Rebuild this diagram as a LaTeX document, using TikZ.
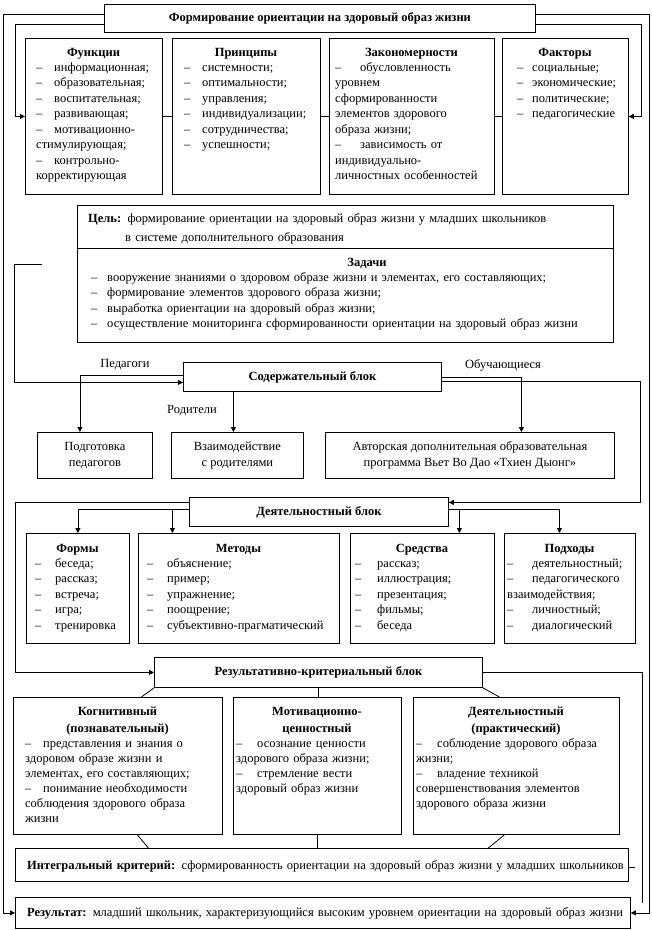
\documentclass[tikz,border=0pt]{standalone}
\usepackage{fontspec}
\setmainfont{Liberation Serif}
\usetikzlibrary{arrows.meta,calc}
\newcommand{\dsh}[1][18pt]{\makebox[#1][l]{–}}
\begin{document}
\begin{tikzpicture}[x=1pt,y=-1pt,
  font=\fontsize{12.5}{15.5}\selectfont,
  bx/.style={draw,line width=0.8pt,anchor=north west,inner sep=0pt,align=center},
  bf/.style={font=\fontsize{12.5}{15.5}\selectfont\bfseries},
  ttl/.style={font=\fontsize{12.5}{15.5}\selectfont\bfseries,anchor=base,inner sep=0pt},
  ttltwo/.style={font=\fontsize{12.5}{17}\selectfont\bfseries,anchor=base,inner sep=0pt,align=center,text width=#1},
  lst/.style={anchor=base west,inner sep=0pt,text width=#1,align=left},
  lst/.default=220pt,
  lbl/.style={inner sep=0pt},
  ln/.style={line width=0.8pt},
  arr/.style={line width=0.8pt,-{Triangle[length=5pt,width=5pt]}}
]
\fill[white] (0,0) rectangle (652,930);
\useasboundingbox (0,0) rectangle (652,930);

% ---------- boxes ----------
\node[bx,bf,minimum width=431pt,minimum height=28pt] (title) at (104,4) {Формирование ориентации на здоровый образ жизни};
\node[bx,minimum width=137pt,minimum height=156pt] (func) at (25,38) {};
\node[bx,minimum width=148pt,minimum height=156pt] (princ) at (172,38) {};
\node[bx,minimum width=165pt,minimum height=156pt] (zakon) at (329,38) {};
\node[bx,minimum width=126pt,minimum height=156pt] (fact) at (502,38) {};
\node[bx,minimum width=536pt,minimum height=43pt] (goal) at (77,205) {};
\node[bx,minimum width=536pt,minimum height=94pt] (tasks) at (77,248) {};
\node[bx,bf,minimum width=258pt,minimum height=29pt] (sod) at (183,362) {Содержательный блок};
\node[bx,minimum width=115pt,minimum height=46pt] (prep) at (37,432) {Подготовка\\педагогов};
\node[bx,minimum width=132pt,minimum height=46pt] (inter) at (171,432) {Взаимодействие\\с родителями};
\node[bx,minimum width=289pt,minimum height=46pt] (auth) at (325,432) {Авторская дополнительная образовательная\\программа Вьет Во Дао «Тхиен Дыонг»};
\node[bx,bf,minimum width=259pt,minimum height=29pt] (deyat) at (189,497) {Деятельностный блок};
\node[bx,minimum width=103pt,minimum height=110pt] (forms) at (26,533) {};
\node[bx,minimum width=201pt,minimum height=110pt] (meth) at (138,533) {};
\node[bx,minimum width=144pt,minimum height=110pt] (means) at (350,533) {};
\node[bx,minimum width=131pt,minimum height=110pt] (appr) at (504,533) {};
\node[bx,bf,minimum width=328pt,minimum height=30pt] (res) at (154,657) {Результативно-критериальный блок};
\node[bx,minimum width=209pt,minimum height=137pt] (kog) at (13,697) {};
\node[bx,minimum width=168pt,minimum height=137pt] (motiv) at (233,697) {};
\node[bx,minimum width=206pt,minimum height=137pt] (deya2) at (413,697) {};
\node[bx,minimum width=613pt,minimum height=33pt] (integ) at (15,848) {};
\node[bx,minimum width=615pt,minimum height=31pt] (result) at (15,897) {};

% ---------- texts: row 1 ----------
\node[ttl] (funcT) at (93.5,56) {Функции};
\node[lst] (funcL) at (36,71) {\dsh информационная;\\\dsh образовательная;\\\dsh воспитательная;\\\dsh развивающая;\\\dsh мотивационно-\\стимулирующая;\\\dsh контрольно-\\корректирующая};
\node[ttl] (princT) at (246,56) {Принципы};
\node[lst] (princL) at (184,71) {\dsh системности;\\\dsh оптимальности;\\\dsh управления;\\\dsh индивидуализации;\\\dsh сотрудничества;\\\dsh успешности;};
\node[ttl] (zakonT) at (411.5,56) {Закономерности};
\node[lst] (zakonL) at (335,71) {\dsh[25pt]обусловленность\\уровнем\\сформированности\\элементов здорового\\образа жизни;\\\dsh[25pt]зависимость от\\индивидуально-\\личностных особенностей};
\node[ttl] (factT) at (565,56) {Факторы};
\node[lst] (factL) at (517,71) {\dsh[15pt]социальные;\\\dsh[15pt]экономические;\\\dsh[15pt]политические;\\\dsh[15pt]педагогические};

% ---------- goal and tasks ----------
\node[lst=530pt] (goalT) at (88,222) {\textbf{Цель:} формирование ориентации на здоровый образ жизни у младших школьников};
\node[lst=480pt] (goalT2) at (125,241) {в системе дополнительного образования};
\node[ttl] (tasksT) at (367,266) {Задачи};
\node[lst=520pt] (tasksL) at (91,281) {\dsh[16pt]вооружение знаниями о здоровом образе жизни и элементах, его составляющих;\\\dsh[16pt]формирование элементов здорового образа жизни;\\\dsh[16pt]выработка ориентации на здоровый образ жизни;\\\dsh[16pt]осуществление мониторинга сформированности ориентации на здоровый образ жизни};

% ---------- labels ----------
\node[lbl] (pedL) at (125,365) {Педагоги};
\node[lbl] (obL) at (503,365) {Обучающиеся};
\node[lbl] (rodL) at (192,411) {Родители};

% ---------- row 4 ----------
\node[ttl] (formsT) at (77.5,552) {Формы};
\node[lst] (formsL) at (35,567) {\dsh[20pt]беседа;\\\dsh[20pt]рассказ;\\\dsh[20pt]встреча;\\\dsh[20pt]игра;\\\dsh[20pt]тренировка};
\node[ttl] (methT) at (238.5,552) {Методы};
\node[lst] (methL) at (147,567) {\dsh[20pt]объяснение;\\\dsh[20pt]пример;\\\dsh[20pt]упражнение;\\\dsh[20pt]поощрение;\\\dsh[20pt]субъективно-прагматический};
\node[ttl] (meansT) at (422,552) {Средства};
\node[lst] (meansL) at (355,567) {\dsh[22pt]рассказ;\\\dsh[22pt]иллюстрация;\\\dsh[22pt]презентация;\\\dsh[22pt]фильмы;\\\dsh[22pt]беседа};
\node[ttl] (apprT) at (569.5,552) {Подходы};
\node[lst] (apprL) at (507,567) {\dsh[25pt]деятельностный;\\\dsh[25pt]педагогического\\взаимодействия;\\\dsh[25pt]личностный;\\\dsh[25pt]диалогический};

% ---------- row 5 ----------
\node[ttltwo=209pt] (kogT) at (117.5,715) {Когнитивный\\(познавательный)};
\node[lst,font=\fontsize{12.5}{15}\selectfont] (kogL) at (25,747) {\dsh представления и знания о\\здоровом образе жизни и\\элементах, его составляющих;\\\dsh понимание необходимости\\соблюдения здорового образа\\жизни};
\node[ttltwo=168pt] (motivT) at (317,715) {Мотивационно-\\ценностный};
\node[lst,font=\fontsize{12.5}{15}\selectfont] (motivL) at (236,747) {\dsh[21pt]осознание ценности\\здорового образа жизни;\\\dsh[21pt]стремление вести\\здоровый образ жизни};
\node[ttltwo=206pt] (deya2T) at (516,715) {Деятельностный\\(практический)};
\node[lst,font=\fontsize{12.5}{15}\selectfont] (deya2L) at (416,747) {\dsh[21pt]соблюдение здорового образа\\жизни;\\\dsh[21pt]владение техникой\\совершенствования элементов\\здорового образа жизни};

% ---------- integral, result ----------
\node[lst=600pt] (integT) at (27,869) {\textbf{Интегральный критерий:} сформированность ориентации на здоровый образ жизни у младших школьников};
\node[lst=600pt] (resultT) at (27,916) {\textbf{Результат:} младший школьник, характеризующийся высоким уровнем ориентации на здоровый образ жизни};

% ---------- connectors ----------
\draw[arr] ([yshift=4pt]title.west) -| ($(result.west)+(-12,0)$) -- (result.west);
\draw[arr] ([yshift=-6pt]title.west) -| ($(func.west)+(-10,0)$) -- (func.west);
\draw[arr] ([yshift=4pt]title.east) -| ($(result.east)+(19,0)$) -- (result.east);
\draw[arr] ([yshift=-6pt]title.east) -| ($(fact.east)+(13,0)$) -- (fact.east);
\draw[ln] (func.east) -- (princ.west);
\draw[ln] (princ.east) -- (zakon.west);
\draw[ln] (zakon.east) -- (fact.west);

\coordinate (gfree) at (42,264);
\draw[arr] (gfree) -- (14,264) |- ([yshift=-5.5pt]sod.west);
\coordinate (pedx) at ([xshift=-15pt]prep.north);
\draw[arr] ([yshift=1.5pt]sod.west) -| (pedx);
\coordinate (rodx) at ([xshift=-4pt]inter.north);
\draw[arr] (rodx |- sod.south) -- (rodx);
\coordinate (obx) at ([xshift=51.5pt]auth.north);
\draw[arr] (sod.east) -| (obx);
\coordinate (dE) at ([yshift=9.5pt]deyat.east);
\draw[arr] ([yshift=-4.5pt]sod.east) -| ($(dE)+(192,0)$) -- (dE);

\coordinate (dW) at ([yshift=9.5pt]deyat.west);
\draw[arr] (dW) -| ($(res.west)+(-139,0)$) -- (res.west);
\coordinate (dW2) at ([yshift=2.5pt]deyat.west);
\draw[arr] (dW2) -| (forms.north);
\coordinate (mx) at ([xshift=-66.5pt]meth.north);
\draw[arr] (mx |- dW2) -- (mx);
\coordinate (dE2) at ([yshift=2.5pt]deyat.east);
\coordinate (px) at ([xshift=-10.5pt]appr.north);
\draw[arr] (dE2) -| (px);
\coordinate (sx) at ([xshift=37pt]means.north);
\draw[arr] (sx |- dE2) -- (sx);

\coordinate (rfree) at (642,903);
\draw[ln] (res.east) -| (rfree);
\draw[ln] (res.south west) -- ([xshift=23.5pt]kog.north);
\draw[ln] (res.south) -- (res.south |- motiv.north);
\draw[ln] (res.south east) -- ([xshift=-17pt]deya2.north);

\draw[ln] ([xshift=19.5pt]kog.south) -- ([xshift=-173.5pt]integ.north);
\draw[ln] (motiv.south) -- (motiv.south |- integ.north);
\draw[ln] ([xshift=-12pt]deya2.south) -- ([xshift=166.5pt]integ.north);
\coordinate (istub) at ($([yshift=-2.5pt]integ.east)+(6,0)$);
\draw[ln] ([yshift=-2.5pt]integ.east) -- (istub);
\end{tikzpicture}
\end{document}
